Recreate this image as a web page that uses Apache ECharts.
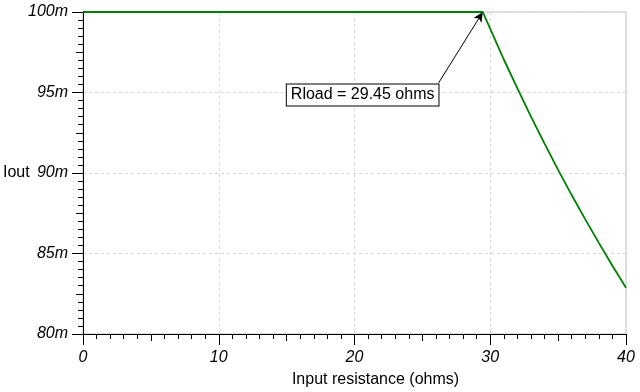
<!DOCTYPE html>
<html>
<head>
<meta charset="utf-8">
<script src="https://cdn.jsdelivr.net/npm/echarts@6/dist/echarts.min.js"></script>
<style>html,body{margin:0;padding:0;background:#fff}#c{width:640px;height:392px}</style>
</head>
<body>
<div id="c"></div>
<script>
// Data (Iout in milli-units)
var rInput = [0, 5, 10, 15, 20, 25, 29.45, 30, 31, 32, 33, 34, 35, 36, 37, 38, 39, 40];
var iOut   = [100, 100, 100, 100, 100, 100, 100, 98.95, 97.05, 95.25, 93.5, 91.83, 90.19, 88.63, 87.12, 85.66, 84.24, 82.87];
var xTicks = [0, 10, 20, 30, 40];
var yTicks = [80, 85, 90, 95, 100];
var annotText = 'Rload = 29.45 ohms';
var annotPeak = [29.45, 100];
var annotFrom = [26.2, 95.6];
var annotLabelAt = [20.6, 94.85];

var FONT = '"Liberation Sans", Arial, sans-serif';
var chart = echarts.init(document.getElementById('c'), null, {renderer: 'canvas'});
var pts = rInput.map(function (x, i) { return [x, iOut[i]]; });

var baseX = {
  type: 'value', min: 0, max: 40, gridIndex: 0, position: 'bottom'
};
var baseY = {
  type: 'value', min: 80, max: 100, gridIndex: 0, position: 'left'
};

chart.setOption({
  animation: false,
  backgroundColor: '#fff',
  grid: {left: 83, right: 14, top: 12, bottom: 58, containLabel: false, outerBoundsMode: 'none',
    show: true, borderColor: '#c0c0c0', borderWidth: 1, backgroundColor: 'transparent'},
  xAxis: [
    Object.assign({}, baseX, {
      interval: 10,
      name: 'Input resistance (ohms)', nameLocation: 'middle', nameGap: 38,
      nameTextStyle: {fontFamily: FONT, fontSize: 16, color: '#000', padding: [0, 0, 0, 42]},
      axisLine: {lineStyle: {color: '#000', width: 1}},
      axisTick: {show: true, inside: false, length: 11, lineStyle: {color: '#000'}},
      minorTick: {show: true, splitNumber: 10, length: 5, lineStyle: {color: '#000'}},
      axisLabel: {margin: 16, fontFamily: FONT, fontSize: 16, fontStyle: 'italic', color: '#000',
        formatter: function (v) { return xTicks.indexOf(v) >= 0 ? String(v) : ''; }},
      splitLine: {show: true, lineStyle: {color: '#d8d8d8', type: [3, 3]}}
    }),
    Object.assign({}, baseX, {
      interval: 5,
      axisLine: {show: false},
      axisTick: {show: true, inside: false, length: 7, lineStyle: {color: '#000'}},
      axisLabel: {show: false},
      splitLine: {show: false}
    })
  ],
  yAxis: [
    Object.assign({}, baseY, {
      interval: 5,
      name: 'Iout', nameLocation: 'middle', nameGap: 80, nameRotate: 0, nameMoveOverlap: false,
      nameTextStyle: {fontFamily: FONT, fontSize: 16, color: '#000', align: 'left', verticalAlign: 'middle', padding: [0, 0, 8, 0]},
      axisLine: {show: true, lineStyle: {color: '#000', width: 1}},
      axisTick: {show: true, inside: false, length: 11, lineStyle: {color: '#000'}},
      minorTick: {show: true, splitNumber: 10, length: 5, lineStyle: {color: '#000'}},
      axisLabel: {margin: 15, fontFamily: FONT, fontSize: 16, fontStyle: 'italic', color: '#000',
        formatter: function (v) { return yTicks.indexOf(v) >= 0 ? v + 'm' : ''; }},
      splitLine: {show: true, lineStyle: {color: '#d8d8d8', type: [3, 3]}}
    }),
    Object.assign({}, baseY, {
      interval: 2.5,
      axisLine: {show: false},
      axisTick: {show: true, inside: false, length: 7, lineStyle: {color: '#000'}},
      axisLabel: {show: false},
      splitLine: {show: false}
    })
  ],
  series: [{
    type: 'line',
    xAxisIndex: 0, yAxisIndex: 0,
    data: pts,
    showSymbol: false,
    symbol: 'none',
    lineStyle: {color: '#008000', width: 1.8},
    itemStyle: {color: '#008000'},
    z: 5,
    markLine: {
      silent: true,
      symbol: ['none', 'arrow'],
      symbolSize: [7, 10],
      label: {show: false},
      lineStyle: {color: '#000', width: 1, type: 'solid'},
      data: [[{coord: annotFrom}, {coord: annotPeak}]]
    },
    markPoint: {
      silent: true,
      symbol: 'rect', symbolSize: 0,
      label: {
        show: true, position: 'inside', formatter: annotText,
        fontFamily: FONT, fontSize: 16, color: '#000',
        backgroundColor: '#fff', borderColor: '#000', borderWidth: 1,
        padding: [3, 4, 2, 4]
      },
      data: [{coord: annotLabelAt}]
    }
  }]
});
</script>
</body>
</html>
